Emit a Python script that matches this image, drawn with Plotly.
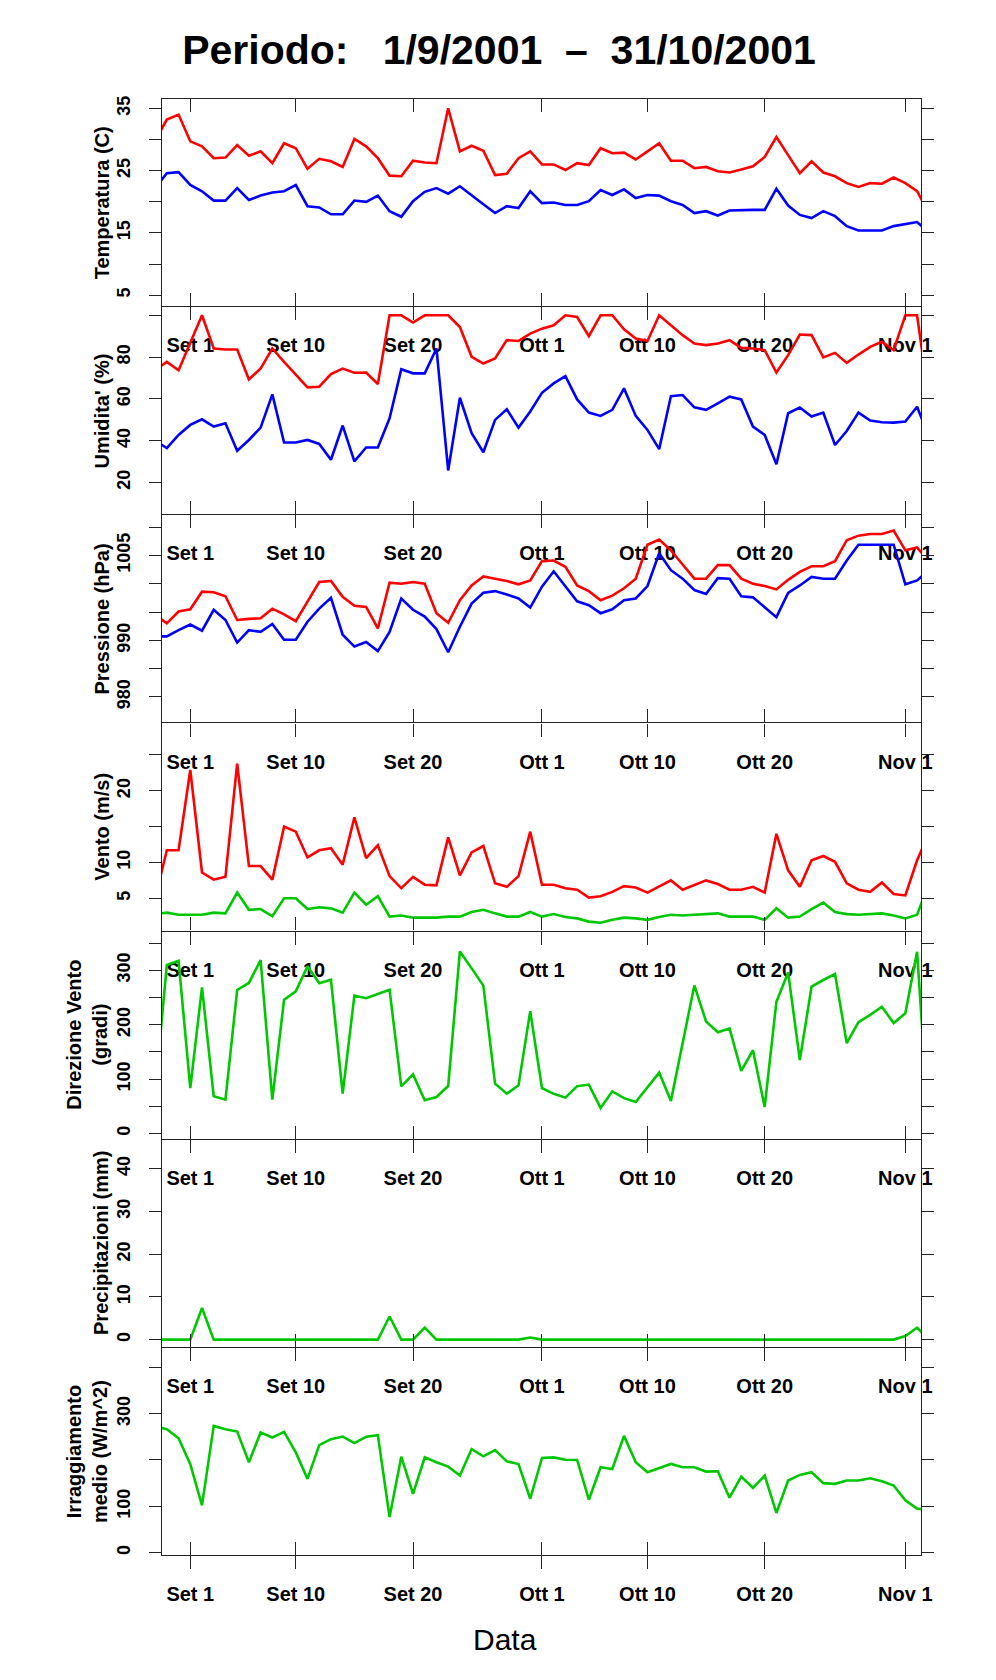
import pandas as pd
import plotly.graph_objects as go
from plotly.subplots import make_subplots

# daily values 29 Aug - 3 Nov 2001 (first and last are clipped by the axis range)
days = pd.date_range("2001-08-29", "2001-11-03", freq="D")

temp_max = [29.8, 33.2, 34.0,
            29.7, 28.9, 27.0, 27.1, 29.1, 27.4, 28.1, 26.2, 29.4, 28.6,
            25.3, 26.9, 26.5, 25.6, 30.1, 28.9, 27.0, 24.2, 24.1, 26.6,
            26.3, 26.2, 35.0, 28.1, 29.0, 28.2, 24.3, 24.5, 27.0, 28.1,
            26.0, 26.0, 25.1, 26.2, 25.9, 28.6, 27.8, 27.9, 26.8, 28.1,
            29.4, 26.6, 26.6, 25.4, 25.6, 24.9, 24.7, 25.2, 25.7, 27.2,
            30.4, 27.5, 24.6, 26.5, 24.7, 24.1, 23.0, 22.4, 23.0, 22.9, 23.9,
            23.0, 21.7, 18.2]
temp_min = [22.2, 24.6, 24.75,
            22.7, 21.7, 20.2, 20.2, 22.2, 20.3, 21.0, 21.5, 21.7, 22.7,
            19.3, 19.1, 18.0, 18.0, 20.2, 20.0, 21.0, 18.5, 17.6, 20.1,
            21.6, 22.2, 21.3, 22.5, 21.0, 19.6, 18.2, 19.3, 19.0, 21.7,
            19.8, 19.9, 19.5, 19.5, 20.1, 21.9, 21.1, 22.0, 20.6, 21.1,
            21.0, 20.1, 19.5, 18.2, 18.5, 17.8, 18.6, 18.7, 18.7, 18.7,
            22.1, 19.4, 17.9, 17.4, 18.5, 17.7, 16.1, 15.4, 15.4, 15.4, 16.1,
            16.4, 16.75, 15.1]

hum_max = [73.8, 77.7, 73.7,
           87.0, 100, 84.1, 83.6, 83.6, 69.3, 74.5, 84.1, 77.7, 71.4,
           65.5, 65.8, 71.8, 74.5, 72.5, 72.6, 67.1, 100, 100, 96.5,
           100, 100, 100, 94.4, 80.1, 76.9, 79.3, 88.1, 87.7, 91.2,
           93.6, 95.2, 100, 99.2, 90.0, 100, 100, 93.3, 88.9, 87.7,
           100, 95.2, 90.5, 86.5, 85.7, 86.5, 88.1, 84.4, 84.1, 83.3,
           72.6, 80.9, 90.8, 90.5, 79.8, 82.0, 77.2, 81.2, 84.9, 87.3, 83.3,
           100, 100, 60.0]
hum_min = [40.0, 36.4, 42.7,
           47.5, 50.2, 46.7, 48.3, 35.1, 40.3, 46.2, 62.1, 39.1, 39.1,
           40.3, 38.4, 30.8, 47.2, 30.0, 36.7, 36.7, 50.7, 74.2, 72.2,
           72.2, 84.1, 25.7, 60.5, 43.5, 34.4, 49.9, 55.0, 46.2, 53.9,
           62.9, 67.4, 70.9, 59.7, 53.4, 51.8, 54.7, 65.0, 51.8, 45.1,
           35.9, 61.3, 61.8, 55.9, 54.7, 57.8, 61.0, 59.7, 46.7, 42.7,
           28.7, 53.1, 55.8, 51.5, 53.4, 37.9, 44.6, 53.4, 49.6, 48.8, 48.6,
           49.1, 56.2, 42.0]

press_max = [994.5, 993.0, 995.1,
             995.5, 998.6, 998.5, 997.8, 993.6, 993.8, 993.9, 995.6, 994.6, 993.4,
             996.8, 1000.3, 1000.5, 997.7, 996.1, 995.9, 992.1, 1000.2, 1000.0, 1000.3,
             1000.0, 994.8, 993.1, 997.1, 999.7, 1001.3, 1000.9, 1000.5, 999.9, 1000.6,
             1004.0, 1004.1, 1003.0, 999.7, 998.7, 997.1, 997.9, 999.2, 1000.9, 1006.9,
             1007.8, 1005.9, 1003.4, 1000.9, 1000.9, 1003.3, 1003.3, 1000.9, 1000.0, 999.6,
             999.0, 1000.7, 1002.1, 1003.1, 1003.1, 1004.0, 1007.7, 1008.5, 1008.8, 1008.8, 1009.4,
             1005.9, 1006.4, 1004.0]
press_min = [990.7, 990.7, 991.8,
             992.8, 991.7, 995.4, 993.6, 989.6, 991.8, 991.5, 992.9, 990.1, 990.1,
             993.3, 995.6, 997.5, 991.0, 988.9, 989.7, 988.1, 991.5, 997.4, 995.4,
             994.2, 992.0, 987.9, 992.4, 996.5, 998.4, 998.7, 998.1, 997.4, 995.8,
             999.5, 1002.2, 999.6, 996.9, 996.2, 994.8, 995.5, 997.1, 997.4, 999.6,
             1005.4, 1002.4, 1000.9, 998.9, 998.2, 1001.0, 1000.9, 997.8, 997.6, 995.8,
             994.1, 998.4, 999.7, 1001.2, 1000.9, 1000.9, 1004.1, 1006.9, 1006.9, 1006.9, 1006.9,
             999.9, 1000.6, 1002.4]

wind_max = [5.0, 11.7, 11.7,
            22.9, 8.6, 7.6, 8.0, 23.8, 9.5, 9.5, 7.6, 15.0, 14.3,
            10.7, 11.7, 12.0, 9.7, 16.3, 10.6, 12.4, 8.1, 6.4, 8.0,
            6.9, 6.8, 13.5, 8.2, 11.4, 12.3, 7.1, 6.6, 8.1, 14.3,
            6.9, 6.9, 6.4, 6.2, 5.1, 5.3, 5.9, 6.7, 6.5, 5.8,
            6.7, 7.5, 6.2, 6.8, 7.5, 7.0, 6.2, 6.2, 6.6, 5.8,
            14.0, 8.9, 6.6, 10.3, 10.9, 10.1, 7.1, 6.2, 5.9, 7.2, 5.6,
            5.4, 10.3, 14.0]
wind_mean = [2.8, 3.0, 2.7,
             2.7, 2.7, 3.0, 2.9, 5.8, 3.4, 3.5, 2.5, 5.0, 5.0,
             3.5, 3.75, 3.6, 3.0, 5.8, 4.1, 5.3, 2.45, 2.6, 2.3,
             2.3, 2.3, 2.45, 2.45, 3.1, 3.4, 2.9, 2.45, 2.45, 3.1,
             2.45, 2.8, 2.4, 2.2, 1.75, 1.6, 2.0, 2.3, 2.2, 2.0,
             2.4, 2.7, 2.6, 2.7, 2.9, 2.9, 2.45, 2.45, 2.45, 2.0,
             3.6, 2.3, 2.45, 3.5, 4.4, 3.1, 2.8, 2.7, 2.8, 2.9, 2.6,
             2.2, 2.7, 7.0]

wind_dir = [76, 309.5, 317.5,
            83.6, 268.6, 68.4, 62.3, 263.7, 276.6, 318.7, 62.3, 246.0, 261.3,
            307.1, 276.0, 282.7, 73.3, 253.4, 248.5, 256.4, 264.3, 86.7, 108.7,
            61.1, 67.2, 87.3, 334.6, 303.4, 271.7, 91.6, 73.3, 88.5, 224.7,
            83.6, 73, 66, 87, 90, 47, 77.5, 65, 58, 84,
            112, 60, 166, 272, 206, 186, 193, 115, 153, 49,
            242, 296, 135, 270, 282, 293, 166, 204.5, 218, 233, 203,
            221, 334, 10]

rain = [0, 0, 0,
        0, 7.4, 0, 0, 0, 0, 0, 0, 0, 0,
        0, 0, 0, 0, 0, 0, 0, 5.4, 0, 0,
        2.8, 0, 0, 0, 0, 0, 0, 0, 0, 0.5,
        0, 0, 0, 0, 0, 0, 0, 0, 0, 0,
        0, 0, 0, 0, 0, 0, 0, 0, 0, 0,
        0, 0, 0, 0, 0, 0, 0, 0, 0, 0, 0,
        0.85, 2.8, 0]

radiation = [272, 266.4, 247,
             191, 102, 273.6, 266.4, 261.4, 195, 259.3, 248.6, 260.7, 216.4,
             159.3, 232.1, 245, 250.7, 236.4, 250, 253.6, 77.1, 207.1, 127.1,
             205.7, 195, 185.7, 166.4, 223.6, 207.9, 221.4, 197.1, 191.4, 116.4,
             204.3, 205.7, 200.7, 200, 114.3, 184.3, 180.7, 252.1, 195, 173.6,
             182.1, 191.4, 184.3, 184.3, 175, 175.7, 118.6, 164.3, 140, 166.4,
             85.7, 155.7, 167.9, 173.6, 150, 148.6, 155.7, 155.7, 160.7, 154.3, 145,
             112.9, 95, 93]

tick_dates = ["2001-09-01", "2001-09-10", "2001-09-20", "2001-10-01",
              "2001-10-10", "2001-10-20", "2001-11-01"]
tick_labels = ["Set 1", "Set 10", "Set 20", "Ott 1", "Ott 10", "Ott 20", "Nov 1"]

RED, BLUE, GREEN = "#FF0000", "#0000FF", "#00C800"
FONT = "Liberation Sans, Arial, Helvetica, sans-serif"
FRAME = "#222222"
X_RANGE = ["2001-08-29 14:05", "2001-11-02 08:02"]

panels = [
    dict(lines=[(temp_max, RED), (temp_min, BLUE)], yrange=[3.26, 36.5],
         tickvals=[5, 10, 15, 20, 25, 30, 35], ticktext=["5", "", "15", "", "25", "", "35"],
         title="Temperatura (C)"),
    dict(lines=[(hum_max, RED), (hum_min, BLUE)], yrange=[4.7, 103.9],
         tickvals=[20, 40, 60, 80, 100], ticktext=["20", "40", "60", "80", ""],
         title="Umidita' (%)"),
    dict(lines=[(press_max, RED), (press_min, BLUE)], yrange=[975.5, 1012.1],
         tickvals=[980, 985, 990, 995, 1000, 1005, 1010],
         ticktext=["980", "", "990", "", "", "1005", ""],
         title="Pressione (hPa)"),
    dict(lines=[(wind_max, RED), (wind_mean, GREEN)], yrange=[0.5, 29.4],
         tickvals=[5, 10, 15, 20, 25], ticktext=["5", "10", "", "20", ""],
         title="Vento (m/s)"),
    dict(lines=[(wind_dir, GREEN)], yrange=[-9.5, 371],
         tickvals=[0, 50, 100, 150, 200, 250, 300, 350],
         ticktext=["0", "", "100", "", "200", "", "300", ""],
         title="Direzione Vento<br>(gradi)"),
    dict(lines=[(rain, GREEN)], yrange=[-1.7, 46.8],
         tickvals=[0, 10, 20, 30, 40], ticktext=["0", "10", "20", "30", "40"],
         title="Precipitazioni (mm)"),
    dict(lines=[(radiation, GREEN)], yrange=[-5, 442],
         tickvals=[0, 100, 200, 300, 400], ticktext=["0", "100", "", "300", ""],
         title="Irraggiamento<br>medio (W/m^2)"),
]

W, H = 996, 1680
L, R, T, B = 162, 75, 99, 125
plot_w, plot_h = W - L - R, H - T - B

fig = make_subplots(rows=7, cols=1, vertical_spacing=1.0 / plot_h)

for i, p in enumerate(panels, start=1):
    for values, color in p["lines"]:
        fig.add_trace(go.Scatter(x=days, y=values, mode="lines",
                                 line=dict(color=color, width=2.6),
                                 showlegend=False, hoverinfo="x+y"),
                      row=i, col=1)
    fig.update_xaxes(type="date", range=X_RANGE, tickvals=tick_dates, ticktext=tick_labels,
                     ticks="inside", ticklen=13, tickwidth=1.3, tickcolor=FRAME,
                     showline=True, linecolor=FRAME, linewidth=1.3, mirror="ticks",
                     showgrid=False, zeroline=False, automargin=False,
                     tickfont=dict(family=FONT, size=20, color="black", weight="bold"),
                     ticklabelstandoff=21, row=i, col=1)
    fig.update_yaxes(range=p["yrange"], tickvals=p["tickvals"], ticktext=p["ticktext"],
                     ticks="outside", ticklen=12, tickwidth=1.3, tickcolor=FRAME,
                     showline=True, linecolor=FRAME, linewidth=1.3, mirror="ticks",
                     showgrid=False, zeroline=False, automargin=False, tickangle=-90,
                     tickfont=dict(family=FONT, size=18, color="black", weight="bold"),
                     ticklabelstandoff=12, row=i, col=1)
    two_lines = "<br>" in p["title"]
    fig.add_annotation(text=p["title"], textangle=-90, showarrow=False,
                       xref="paper", x=((87.5 if two_lines else 101.7) - L) / plot_w,
                       xanchor="center",
                       yref=("y" if i == 1 else "y%d" % i) + " domain", y=0.5,
                       yanchor="middle",
                       font=dict(family=FONT, size=20, color="black", weight="bold"))

# outward ticks under the bottom panel
fig.add_trace(go.Scatter(x=[], y=[], xaxis="x8", yaxis="y7", showlegend=False))
fig.update_layout(xaxis8=dict(overlaying="x7", anchor="y7", side="bottom", type="date",
                              range=X_RANGE, tickvals=tick_dates, ticks="outside",
                              ticklen=13, tickwidth=1.3, tickcolor=FRAME,
                              showticklabels=False, showline=False, showgrid=False,
                              zeroline=False, automargin=False))

fig.add_annotation(text="Data", showarrow=False, xref="paper", x=(505 - L) / plot_w,
                   xanchor="center", yref="paper", y=-(1639 - (H - B)) / plot_h,
                   yanchor="middle", font=dict(family=FONT, size=30, color="black"))

fig.update_layout(
    template="none",
    width=W, height=H,
    margin=dict(l=L, r=R, t=T, b=B),
    paper_bgcolor="white", plot_bgcolor="white",
    showlegend=False,
    title=dict(text="Periodo:\u00a0\u00a0\u00a01/9/2001\u00a0\u00a0–\u00a0\u00a031/10/2001",
               xref="container", x=499 / W, xanchor="center",
               yref="container", y=1 - 50 / H, yanchor="middle",
               font=dict(family=FONT, size=41, color="black", weight="bold")),
)

fig.write_html("out.html", config={"displayModeBar": False},
               post_script="document.body.style.margin='0';")
